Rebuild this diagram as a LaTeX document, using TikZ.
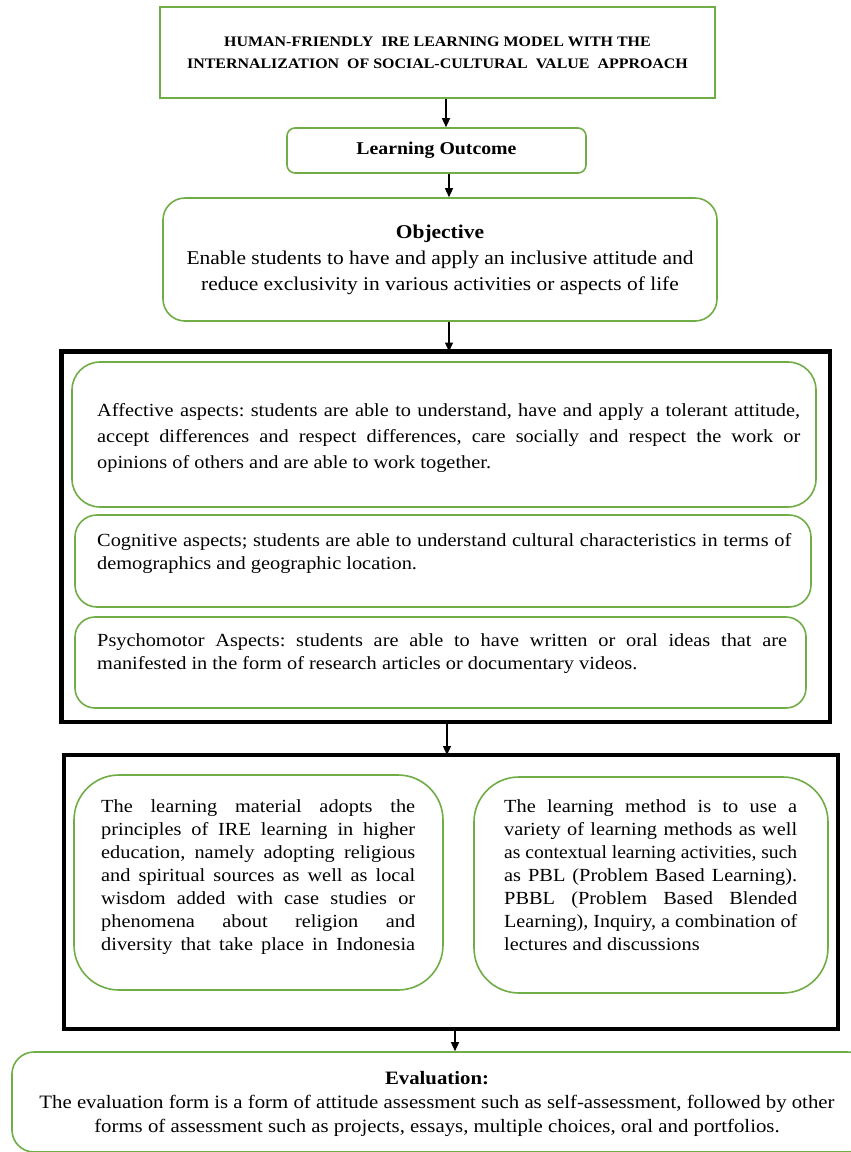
\documentclass[tikz,border=0pt]{standalone}
\usepackage{fontspec}
\usepackage{graphicx}
\setmainfont{Liberation Serif}[FakeStretch=1.1]
\usetikzlibrary{arrows.meta}
\definecolor{gr}{RGB}{112,173,71}
\frenchspacing
\newlength{\tw}
\newsavebox{\jlbox}
\newcommand{\jlline}[1]{\sbox\jlbox{#1}\ifdim\wd\jlbox>\tw\resizebox{\tw}{\height}{\usebox\jlbox}\else\makebox[\tw][s]{#1}\fi}
\newcommand{\jl}[1]{\jlline{#1}\\}
\begin{document}
\begin{tikzpicture}[x=1pt,y=-1pt,
 gbox/.style={draw=gr,line width=1.6pt,inner sep=0pt,fill=white,align=center},
 kbox/.style={draw=black,line width=4.5pt,inner sep=0pt},
 txt/.style={inner sep=0pt,anchor=north west,align=flush left},
 arr/.style={-{Triangle[length=9pt,width=8pt]},line width=1.3pt},
]
\useasboundingbox (0,0) rectangle (851,1152);
% top boxes
\node[gbox,minimum width=555,minimum height=91,
  font=\bfseries\fontsize{14.5}{22}\selectfont] (title) at (437.5,52.5)
  {HUMAN-FRIENDLY\ \ IRE LEARNING MODEL WITH THE\\INTERNALIZATION\ \ OF SOCIAL-CULTURAL\ \ VALUE\ \ APPROACH};
\node[gbox,rounded corners=8pt,minimum width=299,minimum height=45,
  font=\bfseries\fontsize{18}{24}\selectfont] (lo) at (436.5,150.5) {Learning Outcome};
\node[gbox,rounded corners=22pt,minimum width=554,minimum height=123,
  font=\fontsize{19.5}{26}\selectfont] (obj) at (440,259.5)
  {\textbf{Objective}\\Enable students to have and apply an inclusive attitude and\\reduce exclusivity in various activities or aspects of life};
% aspects frame
\node[kbox,minimum width=768.5,minimum height=370.5] (frame1) at (445.75,536.75) {};
\node[gbox,rounded corners=28pt,minimum width=744,minimum height=145] (aff) at (444,434.5) {};
\node[gbox,rounded corners=22pt,minimum width=736,minimum height=92] (cog) at (443,561) {};
\node[gbox,rounded corners=20pt,minimum width=731,minimum height=91] (psy) at (440.5,662.5) {};
\node[txt,text width=703,font=\fontsize{18.5}{26}\selectfont] (affT) at (97,403)
  {\tw=703pt
   \jl{Affective aspects: students are able to understand, have and apply a tolerant attitude,}
   \jl{accept differences and respect differences, care socially and respect the work or}
   opinions of others and are able to work together.};
\node[txt,text width=694,font=\fontsize{18.5}{23}\selectfont] (cogT) at (97,533)
  {\tw=694pt
   \jl{Cognitive aspects; students are able to understand cultural characteristics in terms of}
   demographics and geographic location.};
\node[txt,text width=690,font=\fontsize{18.5}{23}\selectfont] (psyT) at (97,633)
  {\tw=690pt
   \jl{Psychomotor Aspects: students are able to have written or oral ideas that are}
   manifested in the form of research articles or documentary videos.};
% material / method frame
\node[kbox,minimum width=774,minimum height=274] (frame2) at (451,892) {};
\node[gbox,rounded corners=45pt,minimum width=369,minimum height=215] (mat) at (258.5,882.5) {};
\node[gbox,rounded corners=45pt,minimum width=354,minimum height=216] (met) at (651,885) {};
\node[txt,text width=314,font=\fontsize{18.5}{23}\selectfont] (matT) at (101,799)
  {\tw=314pt
   \jl{The learning material adopts the}
   \jl{principles of IRE learning in higher}
   \jl{education, namely adopting religious}
   \jl{and spiritual sources as well as local}
   \jl{wisdom added with case studies or}
   \jl{phenomena about religion and}
   \jlline{diversity that take place in Indonesia}};
\node[txt,text width=293,font=\fontsize{18.5}{23}\selectfont] (metT) at (504,799)
  {\tw=293pt
   \jl{The learning method is to use a}
   \jl{variety of learning methods as well}
   \jl{as contextual learning activities, such}
   \jl{as PBL (Problem Based Learning).}
   \jl{PBBL (Problem Based Blended}
   \jl{Learning), Inquiry, a combination of}
   lectures and discussions};
% evaluation
\node[gbox,rounded corners=22pt,minimum width=858,minimum height=100] (eval) at (441,1102) {};
\node[inner sep=0pt,align=center,font=\fontsize{18.9}{24}\selectfont] (evalT) at (437,1104)
  {\textbf{Evaluation:}\\The evaluation form is a form of attitude assessment such as self-assessment, followed by other\\forms of assessment such as projects, essays, multiple choices, oral and portfolios.};
% arrows
\coordinate (a1) at (446,0);
\coordinate (a2) at (449,0);
\coordinate (a3) at (449,0);
\coordinate (a4) at (447,0);
\coordinate (a5) at (455,0);
\draw[arr] (title.south -| a1) -- (lo.north -| a1);
\draw[arr] (lo.south -| a2) -- (obj.north -| a2);
\draw[arr] (obj.south -| a3) -- ([yshift=-2.25pt]frame1.north -| a3);
\draw[arr] ([yshift=2.25pt]frame1.south -| a4) -- ([yshift=-2.25pt]frame2.north -| a4);
\draw[arr] ([yshift=2.25pt]frame2.south -| a5) -- (eval.north -| a5);
\end{tikzpicture}
\end{document}
